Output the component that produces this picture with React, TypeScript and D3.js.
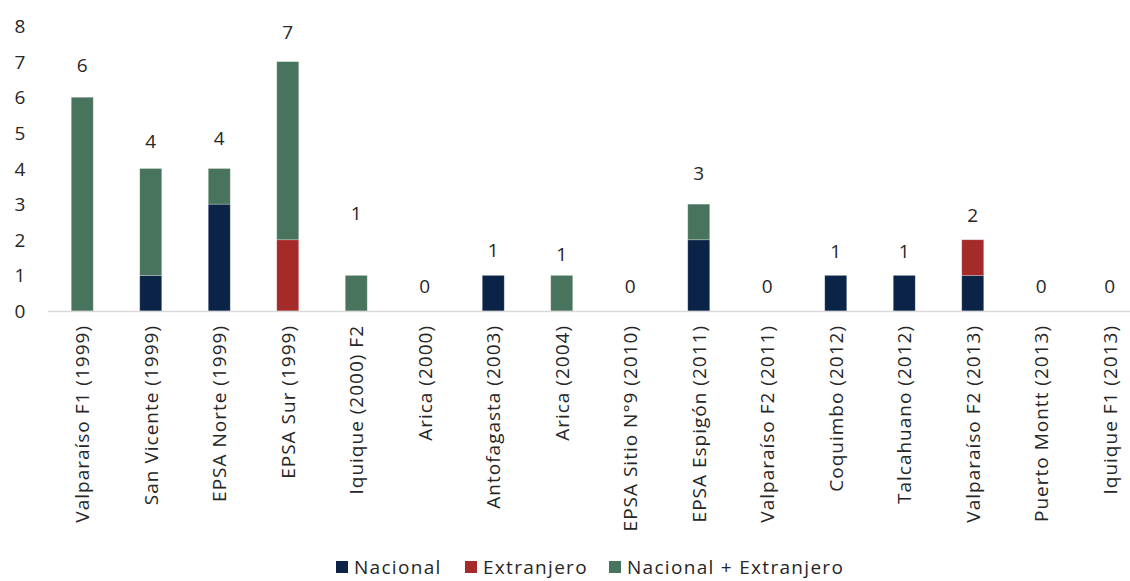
import React from "react";
import * as d3 from "d3";

const categories = [
  "Valparaíso F1 (1999)",
  "San Vicente (1999)",
  "EPSA Norte (1999)",
  "EPSA Sur (1999)",
  "Iquique (2000) F2",
  "Arica (2000)",
  "Antofagasta (2003)",
  "Arica (2004)",
  "EPSA Sitio N°9 (2010)",
  "EPSA Espigón (2011)",
  "Valparaíso F2 (2011)",
  "Coquimbo (2012)",
  "Talcahuano (2012)",
  "Valparaíso F2 (2013)",
  "Puerto Montt (2013)",
  "Iquique F1 (2013)",
];
const nacional = [0, 1, 3, 0, 0, 0, 1, 0, 0, 2, 0, 1, 1, 1, 0, 0];
const extranjero = [0, 0, 0, 2, 0, 0, 0, 0, 0, 0, 0, 0, 0, 1, 0, 0];
const ambos = [6, 3, 1, 5, 1, 0, 0, 1, 0, 1, 0, 0, 0, 0, 0, 0];
// total label positions (in value units), as placed in the original
const labelPos = [6.9, 4.77, 4.86, 7.83, 2.75, 0.7, 1.71, 1.6, 0.7, 3.87, 0.7, 1.68, 1.68, 2.7, 0.7, 0.7];
const yTicks = [0, 1, 2, 3, 4, 5, 6, 7, 8];

const seriesNames = ["Nacional", "Extranjero", "Nacional + Extranjero"];
const colors = ["#0b2347", "#a52a2a", "#48735d"];

const W = 1130;
const H = 581;
const FONT = "'Open Sans', sans-serif";
const TEXT = "#262626";

export default function App() {
  const x = d3
    .scaleBand<string>()
    .domain(categories)
    .range([48, 1144])
    .paddingInner(0.679)
    .paddingOuter(0.3395);
  const y = d3.scaleLinear().domain([0, 8]).range([311, 26]);

  const rows = categories.map((c, i) => ({
    cat: c,
    Nacional: nacional[i],
    Extranjero: extranjero[i],
    "Nacional + Extranjero": ambos[i],
  }));
  const stacked = d3.stack<any>().keys(seriesNames)(rows);
  const totals = categories.map((_, i) => nacional[i] + extranjero[i] + ambos[i]);

  const legendItems = [
    { name: "Nacional", x: 336 },
    { name: "Extranjero", x: 465 },
    { name: "Nacional + Extranjero", x: 609 },
  ];

  return (
    <svg
      width={W}
      height={H}
      style={{ position: "absolute", left: 0, top: 0, background: "#fff" }}
      fontFamily={FONT}
    >
      {yTicks.map((t) => (
        <text
          key={t}
          x={20}
          y={y(t)}
          textAnchor="middle"
          dominantBaseline="central"
          fontSize={19}
          fill={TEXT}
        >
          {t}
        </text>
      ))}
      {stacked.map((s, si) => (
        <g key={s.key} fill={colors[si]}>
          {s.map((d, i) =>
            d[1] - d[0] > 0 ? (
              <rect
                key={i}
                x={x(categories[i])!}
                width={x.bandwidth()}
                y={y(d[1])}
                height={y(d[0]) - y(d[1])}
                stroke="rgba(255,255,255,0.35)"
                strokeWidth={0.75}
              />
            ) : null
          )}
        </g>
      ))}
      <line x1={48} x2={W} y1={y(0) + 0.5} y2={y(0) + 0.5} stroke="#d9d9d9" strokeWidth={1.5} />
      {categories.map((c, i) => (
        <text
          key={"v" + i}
          x={x(c)! + x.bandwidth() / 2}
          y={y(labelPos[i])}
          textAnchor="middle"
          dominantBaseline="central"
          fontSize={19}
          fill={TEXT}
        >
          {totals[i]}
        </text>
      ))}
      {categories.map((c, i) => {
        const cx = x(c)! + x.bandwidth() / 2;
        return (
          <text
            key={"c" + i}
            transform={`translate(${cx},${325}) rotate(-90)`}
            textAnchor="end"
            dominantBaseline="central"
            fontSize={19}
            letterSpacing={1}
            fill={TEXT}
          >
            {c}
          </text>
        );
      })}
      {legendItems.map((l, i) => (
        <g key={l.name}>
          <rect x={l.x} y={561} width={12} height={12} fill={colors[i]} />
          <text
            x={l.x + 18}
            y={567}
            dominantBaseline="central"
            fontSize={19}
            letterSpacing={1.3}
            fill={TEXT}
          >
            {l.name}
          </text>
        </g>
      ))}
    </svg>
  );
}
